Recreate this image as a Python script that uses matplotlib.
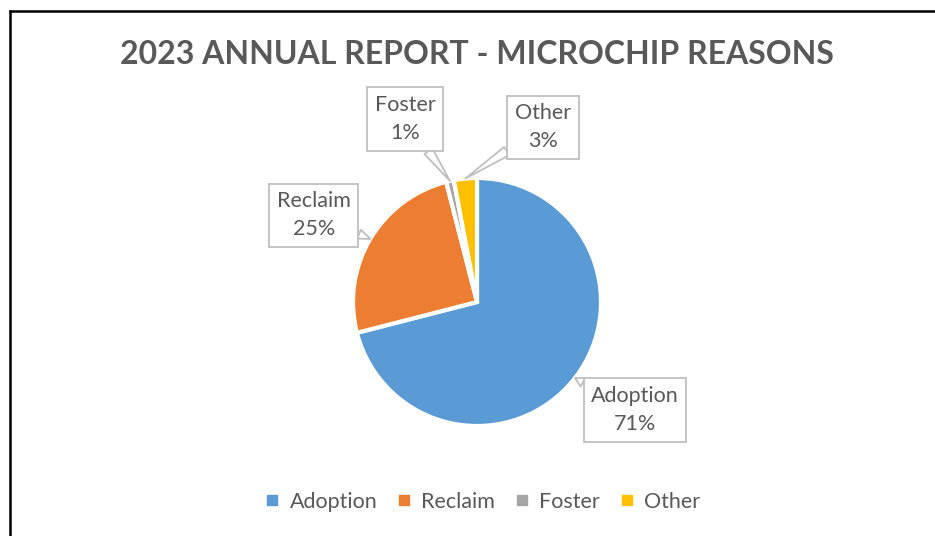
import numpy as np
import matplotlib.pyplot as plt
from matplotlib.lines import Line2D

# microchip reasons, 2023 (share in percent)
reasons = ["Adoption", "Reclaim", "Foster", "Other"]
shares = [71, 25, 1, 3]
colors = ["#5B9BD5", "#ED7D31", "#A5A5A5", "#FFC000"]
# where each callout box sits, in pie radii from the centre
label_pos = [(1.274, -0.871), (-1.315, 0.70), (-0.58, 1.476), (0.532, 1.411)]

plt.rcParams["font.family"] = ["Lato", "DejaVu Sans"]
text_col = "#595959"

fig = plt.figure(figsize=(9.35, 5.36), dpi=100)
ax = fig.add_axes([353 / 935, 110 / 536, 248 / 935, 248 / 536])

ax.pie(shares, colors=colors, startangle=90, counterclock=False,
       wedgeprops=dict(edgecolor="white", linewidth=3))
ax.set_xlim(-1, 1)
ax.set_ylim(-1, 1)
ax.set_aspect("equal")

# callouts point at the middle of each wedge
total = sum(shares)
ends = np.cumsum(shares) / total * 360
for name, val, end, (tx, ty) in zip(reasons, shares, ends, label_pos):
    mid = np.deg2rad(90 - (end - val / total * 180))
    tip = (np.cos(mid), np.sin(mid))
    ax.annotate(f"{name}\n{round(val / total * 100)}%", xy=tip, xytext=(tx, ty),
                ha="center", va="center", fontsize=15.5, color=text_col,
                linespacing=1.5, annotation_clip=False,
                bbox=dict(boxstyle="square,pad=0.35", fc="white", ec="#BFBFBF", lw=1.3),
                arrowprops=dict(arrowstyle="wedge,tail_width=0.45,shrink_factor=0.5",
                                fc="white", ec="#BFBFBF", lw=1.3,
                                shrinkA=0, shrinkB=0))

fig.text(477 / 935, 1 - 55 / 536, "2023 ANNUAL REPORT - MICROCHIP REASONS",
         ha="center", va="center", fontsize=23, fontweight="bold", color=text_col)

handles = [Line2D([], [], marker="s", ls="", color=c, markersize=7) for c in colors]
fig.legend(handles, reasons, loc="center", bbox_to_anchor=(481 / 935, 1 - 502 / 536),
           ncol=4, frameon=False, fontsize=15.5, labelcolor=text_col,
           handletextpad=0.3, columnspacing=0.75, handlelength=1.0)

# frame edges visible in the screenshot
fig.add_artist(Line2D([10 / 935, 1], [1 - 11 / 536, 1 - 11 / 536], color="black", lw=1.8,
                      transform=fig.transFigure))
fig.add_artist(Line2D([10 / 935, 10 / 935], [0, 1 - 11 / 536], color="black", lw=1.8,
                      transform=fig.transFigure))

fig.savefig("out.png", dpi=100)
